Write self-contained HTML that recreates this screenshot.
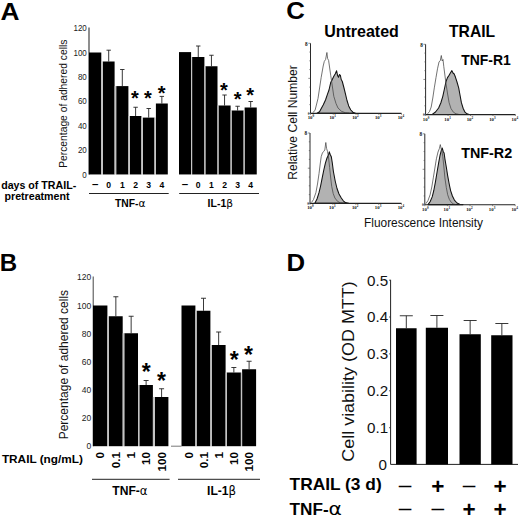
<!DOCTYPE html>
<html lang="en">
<head>
<meta charset="utf-8">
<title>Figure</title>
<style>
html,body{margin:0;padding:0;background:#fff;}
body{width:520px;height:517px;overflow:hidden;}
svg{display:block;font-family:'Liberation Sans', sans-serif;}
</style>
</head>
<body>
<svg width="520" height="517" viewBox="0 0 520 517">
<rect width="520" height="517" fill="#fff"/>
<text x="0.6" y="19.6" font-size="24.6" font-weight="bold" textLength="19.0" lengthAdjust="spacingAndGlyphs" fill="#000">A</text>
<line x1="89.00" y1="27.60" x2="89.00" y2="174.45" stroke="#444" stroke-width="1.2"/>
<text x="86.8" y="31.25" font-size="8.8" text-anchor="end" textLength="13.35" lengthAdjust="spacingAndGlyphs" fill="#222">120</text>
<text x="86.8" y="55.65" font-size="8.8" text-anchor="end" textLength="13.35" lengthAdjust="spacingAndGlyphs" fill="#222">100</text>
<text x="86.8" y="80.05" font-size="8.8" text-anchor="end" textLength="8.9" lengthAdjust="spacingAndGlyphs" fill="#222">80</text>
<text x="86.8" y="104.35" font-size="8.8" text-anchor="end" textLength="8.9" lengthAdjust="spacingAndGlyphs" fill="#222">60</text>
<text x="86.8" y="128.65" font-size="8.8" text-anchor="end" textLength="8.9" lengthAdjust="spacingAndGlyphs" fill="#222">40</text>
<text x="86.8" y="153.05" font-size="8.8" text-anchor="end" textLength="8.9" lengthAdjust="spacingAndGlyphs" fill="#222">20</text>
<text x="86.8" y="177.6" font-size="8.8" text-anchor="end" textLength="4.45" lengthAdjust="spacingAndGlyphs" fill="#222">0</text>
<text x="66.7" y="103.7" font-size="10.3" text-anchor="middle" transform="rotate(-90 66.7 103.7)" fill="#111">Percentage of adhered cells</text>
<rect x="89.00" y="52.50" width="12.30" height="121.95" fill="#000"/>
<line x1="108.70" y1="50.20" x2="108.70" y2="61.50" stroke="#222" stroke-width="0.9"/>
<line x1="106.50" y1="50.20" x2="110.90" y2="50.20" stroke="#222" stroke-width="0.9"/>
<rect x="102.80" y="61.50" width="11.80" height="112.95" fill="#000"/>
<line x1="122.30" y1="69.50" x2="122.30" y2="86.10" stroke="#222" stroke-width="0.9"/>
<line x1="120.10" y1="69.50" x2="124.50" y2="69.50" stroke="#222" stroke-width="0.9"/>
<rect x="116.20" y="86.10" width="12.20" height="88.35" fill="#000"/>
<line x1="135.60" y1="107.25" x2="135.60" y2="116.00" stroke="#222" stroke-width="0.9"/>
<line x1="133.40" y1="107.25" x2="137.80" y2="107.25" stroke="#222" stroke-width="0.9"/>
<rect x="129.80" y="116.00" width="11.60" height="58.45" fill="#000"/>
<line x1="148.70" y1="108.50" x2="148.70" y2="117.60" stroke="#222" stroke-width="0.9"/>
<line x1="146.50" y1="108.50" x2="150.90" y2="108.50" stroke="#222" stroke-width="0.9"/>
<rect x="142.90" y="117.60" width="11.60" height="56.85" fill="#000"/>
<line x1="161.85" y1="96.40" x2="161.85" y2="103.50" stroke="#222" stroke-width="0.9"/>
<line x1="159.65" y1="96.40" x2="164.05" y2="96.40" stroke="#222" stroke-width="0.9"/>
<rect x="155.90" y="103.50" width="11.90" height="70.95" fill="#000"/>
<rect x="101.30" y="61.50" width="1.50" height="112.95" fill="#c4c4c4"/>
<rect x="114.60" y="86.10" width="1.60" height="88.35" fill="#c4c4c4"/>
<rect x="128.40" y="116.00" width="1.40" height="58.45" fill="#c4c4c4"/>
<rect x="141.40" y="117.60" width="1.50" height="56.85" fill="#c4c4c4"/>
<rect x="154.50" y="117.60" width="1.40" height="56.85" fill="#c4c4c4"/>
<rect x="179.00" y="52.10" width="12.10" height="122.35" fill="#000"/>
<line x1="198.25" y1="46.00" x2="198.25" y2="57.00" stroke="#222" stroke-width="0.9"/>
<line x1="196.05" y1="46.00" x2="200.45" y2="46.00" stroke="#222" stroke-width="0.9"/>
<rect x="192.10" y="57.00" width="12.30" height="117.45" fill="#000"/>
<line x1="211.45" y1="55.25" x2="211.45" y2="66.25" stroke="#222" stroke-width="0.9"/>
<line x1="209.25" y1="55.25" x2="213.65" y2="55.25" stroke="#222" stroke-width="0.9"/>
<rect x="205.40" y="66.25" width="12.10" height="108.20" fill="#000"/>
<line x1="224.55" y1="95.00" x2="224.55" y2="105.50" stroke="#222" stroke-width="0.9"/>
<line x1="222.35" y1="95.00" x2="226.75" y2="95.00" stroke="#222" stroke-width="0.9"/>
<rect x="218.50" y="105.50" width="12.10" height="68.95" fill="#000"/>
<line x1="237.60" y1="106.25" x2="237.60" y2="110.50" stroke="#222" stroke-width="0.9"/>
<line x1="235.40" y1="106.25" x2="239.80" y2="106.25" stroke="#222" stroke-width="0.9"/>
<rect x="231.60" y="110.50" width="12.00" height="63.95" fill="#000"/>
<line x1="250.68" y1="101.50" x2="250.68" y2="107.50" stroke="#222" stroke-width="0.9"/>
<line x1="248.48" y1="101.50" x2="252.88" y2="101.50" stroke="#222" stroke-width="0.9"/>
<rect x="244.60" y="107.50" width="12.15" height="66.95" fill="#000"/>
<rect x="191.10" y="57.00" width="1.00" height="117.45" fill="#c4c4c4"/>
<rect x="204.40" y="66.25" width="1.00" height="108.20" fill="#c4c4c4"/>
<rect x="217.50" y="105.50" width="1.00" height="68.95" fill="#c4c4c4"/>
<rect x="230.60" y="110.50" width="1.00" height="63.95" fill="#c4c4c4"/>
<rect x="243.60" y="110.50" width="1.00" height="63.95" fill="#c4c4c4"/>
<text x="134.8" y="105.1" font-size="20" font-weight="bold" text-anchor="middle" fill="#000">*</text>
<text x="147.8" y="105.1" font-size="20" font-weight="bold" text-anchor="middle" fill="#000">*</text>
<text x="161.65" y="100.1" font-size="20" font-weight="bold" text-anchor="middle" fill="#000">*</text>
<text x="223.9" y="96.5" font-size="20" font-weight="bold" text-anchor="middle" fill="#000">*</text>
<text x="237.7" y="106.35" font-size="20" font-weight="bold" text-anchor="middle" fill="#000">*</text>
<text x="250.2" y="101.7" font-size="20" font-weight="bold" text-anchor="middle" fill="#000">*</text>
<text x="95.15" y="188.2" font-size="11.5" font-weight="bold" text-anchor="middle" fill="#000">–</text>
<text x="108.69999999999999" y="188.2" font-size="8.6" font-weight="bold" text-anchor="middle" fill="#000">0</text>
<text x="122.30000000000001" y="188.2" font-size="8.6" font-weight="bold" text-anchor="middle" fill="#000">1</text>
<text x="135.60000000000002" y="188.2" font-size="8.6" font-weight="bold" text-anchor="middle" fill="#000">2</text>
<text x="148.7" y="188.2" font-size="8.6" font-weight="bold" text-anchor="middle" fill="#000">3</text>
<text x="161.85000000000002" y="188.2" font-size="8.6" font-weight="bold" text-anchor="middle" fill="#000">4</text>
<text x="185.05" y="188.2" font-size="11.5" font-weight="bold" text-anchor="middle" fill="#000">–</text>
<text x="198.25" y="188.2" font-size="8.6" font-weight="bold" text-anchor="middle" fill="#000">0</text>
<text x="211.45" y="188.2" font-size="8.6" font-weight="bold" text-anchor="middle" fill="#000">1</text>
<text x="224.55" y="188.2" font-size="8.6" font-weight="bold" text-anchor="middle" fill="#000">2</text>
<text x="237.6" y="188.2" font-size="8.6" font-weight="bold" text-anchor="middle" fill="#000">3</text>
<text x="250.675" y="188.2" font-size="8.6" font-weight="bold" text-anchor="middle" fill="#000">4</text>
<line x1="89.00" y1="193.50" x2="168.70" y2="193.50" stroke="#222" stroke-width="1"/>
<line x1="179.20" y1="193.50" x2="259.00" y2="193.50" stroke="#222" stroke-width="1"/>
<text x="115.0" y="207" font-size="10.3" font-weight="bold" fill="#000">TNF-<tspan font-weight="normal" font-family="DejaVu Sans, Liberation Sans, sans-serif" font-size="10.6">α</tspan></text>
<text x="207.6" y="207" font-size="10.5" font-weight="bold" fill="#000">IL-1<tspan font-weight="normal" font-family="DejaVu Sans, Liberation Sans, sans-serif" font-size="10.6">β</tspan></text>
<text x="1.2" y="189" font-size="10.6" font-weight="bold" textLength="75" lengthAdjust="spacingAndGlyphs" fill="#000">days of TRAIL-</text>
<text x="4.5" y="199.6" font-size="10.6" font-weight="bold" textLength="65" lengthAdjust="spacingAndGlyphs" fill="#000">pretreatment</text>
<text x="-0.3" y="270.9" font-size="24" font-weight="bold" textLength="17.4" lengthAdjust="spacingAndGlyphs" fill="#000">B</text>
<line x1="93.20" y1="276.50" x2="93.20" y2="446.20" stroke="#444" stroke-width="1"/>
<text x="91.2" y="280.3" font-size="8.5" text-anchor="end" fill="#222">120</text>
<text x="91.2" y="308.5" font-size="8.5" text-anchor="end" fill="#222">100</text>
<text x="91.2" y="336.6" font-size="8.5" text-anchor="end" fill="#222">80</text>
<text x="91.2" y="364.8" font-size="8.5" text-anchor="end" fill="#222">60</text>
<text x="91.2" y="392.9" font-size="8.5" text-anchor="end" fill="#222">40</text>
<text x="91.2" y="421.1" font-size="8.5" text-anchor="end" fill="#222">20</text>
<text x="91.2" y="449.2" font-size="8.5" text-anchor="end" fill="#222">0</text>
<text x="68.2" y="364.6" font-size="12" text-anchor="middle" transform="rotate(-90 68.2 364.6)" fill="#111">Percentage of adhered cells</text>
<rect x="93.00" y="305.50" width="14.40" height="140.70" fill="#000"/>
<line x1="115.85" y1="296.75" x2="115.85" y2="316.25" stroke="#222" stroke-width="0.9"/>
<line x1="113.35" y1="296.75" x2="118.35" y2="296.75" stroke="#222" stroke-width="0.9"/>
<rect x="109.00" y="316.25" width="13.70" height="129.95" fill="#000"/>
<line x1="131.15" y1="316.25" x2="131.15" y2="333.25" stroke="#222" stroke-width="0.9"/>
<line x1="128.65" y1="316.25" x2="133.65" y2="316.25" stroke="#222" stroke-width="0.9"/>
<rect x="124.30" y="333.25" width="13.70" height="112.95" fill="#000"/>
<line x1="146.12" y1="380.50" x2="146.12" y2="385.00" stroke="#222" stroke-width="0.9"/>
<line x1="143.62" y1="380.50" x2="148.62" y2="380.50" stroke="#222" stroke-width="0.9"/>
<rect x="139.35" y="385.00" width="13.55" height="61.20" fill="#000"/>
<line x1="161.60" y1="388.75" x2="161.60" y2="397.00" stroke="#222" stroke-width="0.9"/>
<line x1="159.10" y1="388.75" x2="164.10" y2="388.75" stroke="#222" stroke-width="0.9"/>
<rect x="154.80" y="397.00" width="13.60" height="49.20" fill="#000"/>
<rect x="107.40" y="316.25" width="1.60" height="129.95" fill="#c4c4c4"/>
<rect x="122.70" y="333.25" width="1.60" height="112.95" fill="#c4c4c4"/>
<rect x="138.00" y="385.00" width="1.35" height="61.20" fill="#c4c4c4"/>
<rect x="152.90" y="397.00" width="1.90" height="49.20" fill="#c4c4c4"/>
<rect x="181.50" y="305.50" width="13.90" height="140.70" fill="#000"/>
<line x1="203.50" y1="298.25" x2="203.50" y2="310.75" stroke="#222" stroke-width="0.9"/>
<line x1="201.00" y1="298.25" x2="206.00" y2="298.25" stroke="#222" stroke-width="0.9"/>
<rect x="196.60" y="310.75" width="13.80" height="135.45" fill="#000"/>
<line x1="218.65" y1="332.00" x2="218.65" y2="345.00" stroke="#222" stroke-width="0.9"/>
<line x1="216.15" y1="332.00" x2="221.15" y2="332.00" stroke="#222" stroke-width="0.9"/>
<rect x="211.70" y="345.00" width="13.90" height="101.20" fill="#000"/>
<line x1="233.85" y1="367.50" x2="233.85" y2="372.50" stroke="#222" stroke-width="0.9"/>
<line x1="231.35" y1="367.50" x2="236.35" y2="367.50" stroke="#222" stroke-width="0.9"/>
<rect x="226.80" y="372.50" width="14.10" height="73.70" fill="#000"/>
<line x1="249.10" y1="361.25" x2="249.10" y2="369.25" stroke="#222" stroke-width="0.9"/>
<line x1="246.60" y1="361.25" x2="251.60" y2="361.25" stroke="#222" stroke-width="0.9"/>
<rect x="242.10" y="369.25" width="14.00" height="76.95" fill="#000"/>
<rect x="195.40" y="310.75" width="1.20" height="135.45" fill="#c4c4c4"/>
<rect x="210.40" y="345.00" width="1.30" height="101.20" fill="#c4c4c4"/>
<rect x="225.60" y="372.50" width="1.20" height="73.70" fill="#c4c4c4"/>
<rect x="240.90" y="372.50" width="1.20" height="73.70" fill="#c4c4c4"/>
<line x1="171.00" y1="446.20" x2="181.50" y2="446.20" stroke="#555" stroke-width="0.8"/>
<text x="146.3" y="379.92" font-size="23" font-weight="bold" text-anchor="middle" fill="#000">*</text>
<text x="161.4" y="388.92" font-size="23" font-weight="bold" text-anchor="middle" fill="#000">*</text>
<text x="234.25" y="367.87" font-size="23" font-weight="bold" text-anchor="middle" fill="#000">*</text>
<text x="248.5" y="362.87" font-size="23" font-weight="bold" text-anchor="middle" fill="#000">*</text>
<text x="104.3" y="451.9" font-size="11.7" font-weight="bold" text-anchor="end" transform="rotate(-90 104.3 451.9)" fill="#000">0</text>
<text x="119.95" y="451.9" font-size="11.7" font-weight="bold" text-anchor="end" transform="rotate(-90 119.95 451.9)" fill="#000">0.1</text>
<text x="135.25" y="451.9" font-size="11.7" font-weight="bold" text-anchor="end" transform="rotate(-90 135.25 451.9)" fill="#000">1</text>
<text x="150.22" y="451.9" font-size="11.7" font-weight="bold" text-anchor="end" transform="rotate(-90 150.22 451.9)" fill="#000">10</text>
<text x="165.7" y="451.9" font-size="11.7" font-weight="bold" text-anchor="end" transform="rotate(-90 165.7 451.9)" fill="#000">100</text>
<text x="192.55" y="451.9" font-size="11.7" font-weight="bold" text-anchor="end" transform="rotate(-90 192.55 451.9)" fill="#000">0</text>
<text x="207.6" y="451.9" font-size="11.7" font-weight="bold" text-anchor="end" transform="rotate(-90 207.6 451.9)" fill="#000">0.1</text>
<text x="222.75" y="451.9" font-size="11.7" font-weight="bold" text-anchor="end" transform="rotate(-90 222.75 451.9)" fill="#000">1</text>
<text x="237.95" y="451.9" font-size="11.7" font-weight="bold" text-anchor="end" transform="rotate(-90 237.95 451.9)" fill="#000">10</text>
<text x="253.2" y="451.9" font-size="11.7" font-weight="bold" text-anchor="end" transform="rotate(-90 253.2 451.9)" fill="#000">100</text>
<line x1="92.00" y1="479.30" x2="169.60" y2="479.30" stroke="#222" stroke-width="1"/>
<line x1="178.00" y1="479.30" x2="260.00" y2="479.30" stroke="#222" stroke-width="1"/>
<text x="112.3" y="494.5" font-size="12.1" font-weight="bold" fill="#000">TNF-<tspan font-weight="normal" font-family="DejaVu Sans, Liberation Sans, sans-serif" font-size="11.8">α</tspan></text>
<text x="207.1" y="494.5" font-size="12.1" font-weight="bold" fill="#000">IL-1<tspan font-weight="normal" font-family="DejaVu Sans, Liberation Sans, sans-serif" font-size="11.8">β</tspan></text>
<text x="1.9" y="462.6" font-size="11.8" font-weight="bold" fill="#000">TRAIL (ng/mL)</text>
<text x="286.3" y="18.9" font-size="24.4" font-weight="bold" textLength="18.6" lengthAdjust="spacingAndGlyphs" fill="#000">C</text>
<text x="324.2" y="37" font-size="16" font-weight="bold" fill="#000">Untreated</text>
<text x="449.0" y="36.6" font-size="15.7" font-weight="bold" fill="#000">TRAIL</text>
<text x="461.2" y="64.8" font-size="15.2" font-weight="bold" textLength="49.5" lengthAdjust="spacingAndGlyphs" fill="#000">TNF-R1</text>
<text x="461.2" y="158.4" font-size="15.2" font-weight="bold" textLength="51" lengthAdjust="spacingAndGlyphs" fill="#000">TNF-R2</text>
<text x="297" y="122.5" font-size="12.15" text-anchor="middle" transform="rotate(-90 297 122.5)" fill="#111">Relative Cell Number</text>
<text x="364" y="227" font-size="12" textLength="119" lengthAdjust="spacingAndGlyphs" fill="#111">Fluorescence Intensity</text>
<polygon points="317.0,113.2 319.5,111.8 323.3,104.8 325.5,100.0 327.5,94.2 329.0,90.0 330.7,82.6 331.8,80.5 333.8,76.3 335.3,73.8 336.6,70.8 337.6,75.5 338.5,77.3 339.5,74.5 340.4,75.4 341.2,79.5 342.3,81.5 344.0,88.0 345.5,94.2 347.0,100.5 348.7,105.9 350.8,110.0 352.9,112.2 355.4,113.2" fill="#b2b2b2" stroke="#111" stroke-width="1.05" stroke-linejoin="round"/>
<polyline points="312.7,112.6 315.0,110.5 318.0,98.5 321.2,77.3 323.2,66.0 324.3,61.4 325.6,59.5 326.9,52.5 327.6,58.5 328.6,60.4 330.7,75.2 333.8,96.3 336.0,103.5 338.0,108.0 341.5,111.3 345.5,112.8 349.0,113.2" fill="none" stroke="#444" stroke-width="0.75" stroke-linejoin="round"/>
<line x1="310.50" y1="43.30" x2="310.50" y2="113.40" stroke="#2a2a2a" stroke-width="1.0"/>
<line x1="310.50" y1="113.40" x2="401.50" y2="113.40" stroke="#222" stroke-width="1.1"/>
<line x1="308.30" y1="43.30" x2="310.50" y2="43.30" stroke="#444" stroke-width="0.6"/>
<line x1="309.30" y1="52.06" x2="310.50" y2="52.06" stroke="#444" stroke-width="0.6"/>
<line x1="309.30" y1="60.83" x2="310.50" y2="60.83" stroke="#444" stroke-width="0.6"/>
<line x1="309.30" y1="69.59" x2="310.50" y2="69.59" stroke="#444" stroke-width="0.6"/>
<line x1="308.30" y1="78.35" x2="310.50" y2="78.35" stroke="#444" stroke-width="0.6"/>
<line x1="309.30" y1="87.11" x2="310.50" y2="87.11" stroke="#444" stroke-width="0.6"/>
<line x1="309.30" y1="95.88" x2="310.50" y2="95.88" stroke="#444" stroke-width="0.6"/>
<line x1="309.30" y1="104.64" x2="310.50" y2="104.64" stroke="#444" stroke-width="0.6"/>
<line x1="308.30" y1="113.40" x2="310.50" y2="113.40" stroke="#444" stroke-width="0.6"/>
<text x="312.5" y="119.3" font-size="4.8" text-anchor="end" fill="#111" font-family="Liberation Serif, serif" font-weight="bold">10</text>
<text x="312.6" y="117.4" font-size="3.3" fill="#111" font-family="Liberation Serif, serif" font-weight="bold">0</text>
<line x1="310.50" y1="113.40" x2="310.50" y2="114.80" stroke="#444" stroke-width="0.6"/>
<text x="334.25" y="119.3" font-size="4.8" text-anchor="end" fill="#111" font-family="Liberation Serif, serif" font-weight="bold">10</text>
<text x="334.35" y="117.4" font-size="3.3" fill="#111" font-family="Liberation Serif, serif" font-weight="bold">1</text>
<line x1="333.25" y1="113.40" x2="333.25" y2="114.80" stroke="#444" stroke-width="0.6"/>
<text x="357.0" y="119.3" font-size="4.8" text-anchor="end" fill="#111" font-family="Liberation Serif, serif" font-weight="bold">10</text>
<text x="357.1" y="117.4" font-size="3.3" fill="#111" font-family="Liberation Serif, serif" font-weight="bold">2</text>
<line x1="356.00" y1="113.40" x2="356.00" y2="114.80" stroke="#444" stroke-width="0.6"/>
<text x="379.75" y="119.3" font-size="4.8" text-anchor="end" fill="#111" font-family="Liberation Serif, serif" font-weight="bold">10</text>
<text x="379.85" y="117.4" font-size="3.3" fill="#111" font-family="Liberation Serif, serif" font-weight="bold">3</text>
<line x1="378.75" y1="113.40" x2="378.75" y2="114.80" stroke="#444" stroke-width="0.6"/>
<text x="402.5" y="119.3" font-size="4.8" text-anchor="end" fill="#111" font-family="Liberation Serif, serif" font-weight="bold">10</text>
<text x="402.6" y="117.4" font-size="3.3" fill="#111" font-family="Liberation Serif, serif" font-weight="bold">4</text>
<line x1="401.50" y1="113.40" x2="401.50" y2="114.80" stroke="#444" stroke-width="0.6"/>
<text x="307.7" y="45.7" font-size="5.2" text-anchor="end" fill="#111" font-family="Liberation Serif, serif" font-weight="bold">8</text>
<text x="309.5" y="114.6" font-size="3.4" text-anchor="end" fill="#333" font-family="Liberation Serif, serif" font-weight="bold">0</text>
<polygon points="432.2,114.4 435.5,112.0 438.6,108.0 440.8,103.0 442.8,96.3 444.4,89.0 446.0,81.5 447.5,77.6 449.1,75.2 450.5,72.8 451.9,70.6 453.0,73.0 454.2,74.0 455.5,77.3 457.0,82.0 458.7,87.9 460.0,95.0 461.4,102.7 463.2,108.5 465.0,112.2 467.0,113.8 469.2,114.4" fill="#b2b2b2" stroke="#111" stroke-width="1.05" stroke-linejoin="round"/>
<polyline points="427.6,113.8 429.5,111.5 431.2,107.0 432.8,98.0 434.3,87.9 436.0,77.5 437.5,68.8 439.0,62.0 440.3,60.5 441.3,55.5 442.2,61.0 443.0,59.5 443.8,66.7 446.0,83.7 447.6,94.0 449.1,102.7 451.0,108.6 453.4,112.2 456.0,113.8 458.7,114.3" fill="none" stroke="#444" stroke-width="0.75" stroke-linejoin="round"/>
<line x1="425.60" y1="44.30" x2="425.60" y2="114.60" stroke="#2a2a2a" stroke-width="1.0"/>
<line x1="425.60" y1="114.60" x2="515.40" y2="114.60" stroke="#222" stroke-width="1.1"/>
<line x1="423.40" y1="44.30" x2="425.60" y2="44.30" stroke="#444" stroke-width="0.6"/>
<line x1="424.40" y1="53.09" x2="425.60" y2="53.09" stroke="#444" stroke-width="0.6"/>
<line x1="424.40" y1="61.88" x2="425.60" y2="61.88" stroke="#444" stroke-width="0.6"/>
<line x1="424.40" y1="70.66" x2="425.60" y2="70.66" stroke="#444" stroke-width="0.6"/>
<line x1="423.40" y1="79.45" x2="425.60" y2="79.45" stroke="#444" stroke-width="0.6"/>
<line x1="424.40" y1="88.24" x2="425.60" y2="88.24" stroke="#444" stroke-width="0.6"/>
<line x1="424.40" y1="97.02" x2="425.60" y2="97.02" stroke="#444" stroke-width="0.6"/>
<line x1="424.40" y1="105.81" x2="425.60" y2="105.81" stroke="#444" stroke-width="0.6"/>
<line x1="423.40" y1="114.60" x2="425.60" y2="114.60" stroke="#444" stroke-width="0.6"/>
<text x="427.6" y="120.5" font-size="4.8" text-anchor="end" fill="#111" font-family="Liberation Serif, serif" font-weight="bold">10</text>
<text x="427.7" y="118.6" font-size="3.3" fill="#111" font-family="Liberation Serif, serif" font-weight="bold">0</text>
<line x1="425.60" y1="114.60" x2="425.60" y2="116.00" stroke="#444" stroke-width="0.6"/>
<text x="449.05" y="120.5" font-size="4.8" text-anchor="end" fill="#111" font-family="Liberation Serif, serif" font-weight="bold">10</text>
<text x="449.15" y="118.6" font-size="3.3" fill="#111" font-family="Liberation Serif, serif" font-weight="bold">1</text>
<line x1="448.05" y1="114.60" x2="448.05" y2="116.00" stroke="#444" stroke-width="0.6"/>
<text x="471.5" y="120.5" font-size="4.8" text-anchor="end" fill="#111" font-family="Liberation Serif, serif" font-weight="bold">10</text>
<text x="471.6" y="118.6" font-size="3.3" fill="#111" font-family="Liberation Serif, serif" font-weight="bold">2</text>
<line x1="470.50" y1="114.60" x2="470.50" y2="116.00" stroke="#444" stroke-width="0.6"/>
<text x="493.95" y="120.5" font-size="4.8" text-anchor="end" fill="#111" font-family="Liberation Serif, serif" font-weight="bold">10</text>
<text x="494.05" y="118.6" font-size="3.3" fill="#111" font-family="Liberation Serif, serif" font-weight="bold">3</text>
<line x1="492.95" y1="114.60" x2="492.95" y2="116.00" stroke="#444" stroke-width="0.6"/>
<text x="516.4" y="120.5" font-size="4.8" text-anchor="end" fill="#111" font-family="Liberation Serif, serif" font-weight="bold">10</text>
<text x="516.5" y="118.6" font-size="3.3" fill="#111" font-family="Liberation Serif, serif" font-weight="bold">4</text>
<line x1="515.40" y1="114.60" x2="515.40" y2="116.00" stroke="#444" stroke-width="0.6"/>
<text x="422.8" y="46.7" font-size="5.2" text-anchor="end" fill="#111" font-family="Liberation Serif, serif" font-weight="bold">8</text>
<text x="424.6" y="115.8" font-size="3.4" text-anchor="end" fill="#333" font-family="Liberation Serif, serif" font-weight="bold">0</text>
<polygon points="314.8,203.2 317.0,199.0 319.0,192.7 320.6,186.0 322.2,177.9 323.8,170.0 325.4,163.1 327.0,158.0 328.6,154.6 329.3,151.8 330.2,154.5 331.3,156.7 332.3,163.0 333.4,171.5 335.2,181.0 337.0,188.5 339.0,194.0 341.3,198.0 343.3,200.8 345.5,202.6 348.7,203.3" fill="#b2b2b2" stroke="#111" stroke-width="1.05" stroke-linejoin="round"/>
<polyline points="311.6,202.4 313.5,199.5 315.9,192.7 317.5,184.0 319.0,173.7 320.2,164.0 321.2,156.7 322.4,153.0 323.7,151.4 324.8,150.0 325.8,142.5 326.6,148.5 327.5,151.4 328.6,158.0 329.6,167.3 330.6,177.0 331.7,186.3 333.2,193.5 334.9,198.0 337.5,201.3 340.2,202.8 344.0,203.2" fill="none" stroke="#444" stroke-width="0.75" stroke-linejoin="round"/>
<line x1="310.00" y1="133.00" x2="310.00" y2="203.40" stroke="#2a2a2a" stroke-width="1.0"/>
<line x1="310.00" y1="203.40" x2="401.50" y2="203.40" stroke="#222" stroke-width="1.1"/>
<line x1="307.80" y1="133.00" x2="310.00" y2="133.00" stroke="#444" stroke-width="0.6"/>
<line x1="308.80" y1="141.80" x2="310.00" y2="141.80" stroke="#444" stroke-width="0.6"/>
<line x1="308.80" y1="150.60" x2="310.00" y2="150.60" stroke="#444" stroke-width="0.6"/>
<line x1="308.80" y1="159.40" x2="310.00" y2="159.40" stroke="#444" stroke-width="0.6"/>
<line x1="307.80" y1="168.20" x2="310.00" y2="168.20" stroke="#444" stroke-width="0.6"/>
<line x1="308.80" y1="177.00" x2="310.00" y2="177.00" stroke="#444" stroke-width="0.6"/>
<line x1="308.80" y1="185.80" x2="310.00" y2="185.80" stroke="#444" stroke-width="0.6"/>
<line x1="308.80" y1="194.60" x2="310.00" y2="194.60" stroke="#444" stroke-width="0.6"/>
<line x1="307.80" y1="203.40" x2="310.00" y2="203.40" stroke="#444" stroke-width="0.6"/>
<text x="312.0" y="209.3" font-size="4.8" text-anchor="end" fill="#111" font-family="Liberation Serif, serif" font-weight="bold">10</text>
<text x="312.1" y="207.4" font-size="3.3" fill="#111" font-family="Liberation Serif, serif" font-weight="bold">0</text>
<line x1="310.00" y1="203.40" x2="310.00" y2="204.80" stroke="#444" stroke-width="0.6"/>
<text x="333.88" y="209.3" font-size="4.8" text-anchor="end" fill="#111" font-family="Liberation Serif, serif" font-weight="bold">10</text>
<text x="333.98" y="207.4" font-size="3.3" fill="#111" font-family="Liberation Serif, serif" font-weight="bold">1</text>
<line x1="332.88" y1="203.40" x2="332.88" y2="204.80" stroke="#444" stroke-width="0.6"/>
<text x="356.75" y="209.3" font-size="4.8" text-anchor="end" fill="#111" font-family="Liberation Serif, serif" font-weight="bold">10</text>
<text x="356.85" y="207.4" font-size="3.3" fill="#111" font-family="Liberation Serif, serif" font-weight="bold">2</text>
<line x1="355.75" y1="203.40" x2="355.75" y2="204.80" stroke="#444" stroke-width="0.6"/>
<text x="379.62" y="209.3" font-size="4.8" text-anchor="end" fill="#111" font-family="Liberation Serif, serif" font-weight="bold">10</text>
<text x="379.73" y="207.4" font-size="3.3" fill="#111" font-family="Liberation Serif, serif" font-weight="bold">3</text>
<line x1="378.62" y1="203.40" x2="378.62" y2="204.80" stroke="#444" stroke-width="0.6"/>
<text x="402.5" y="209.3" font-size="4.8" text-anchor="end" fill="#111" font-family="Liberation Serif, serif" font-weight="bold">10</text>
<text x="402.6" y="207.4" font-size="3.3" fill="#111" font-family="Liberation Serif, serif" font-weight="bold">4</text>
<line x1="401.50" y1="203.40" x2="401.50" y2="204.80" stroke="#444" stroke-width="0.6"/>
<text x="307.2" y="135.4" font-size="5.2" text-anchor="end" fill="#111" font-family="Liberation Serif, serif" font-weight="bold">8</text>
<text x="309.0" y="204.6" font-size="3.4" text-anchor="end" fill="#333" font-family="Liberation Serif, serif" font-weight="bold">0</text>
<polygon points="428.0,204.6 430.2,201.5 432.2,196.9 433.8,190.5 435.4,182.1 437.0,172.5 438.6,163.1 440.0,155.5 441.3,150.4 442.2,148.0 443.2,151.5 444.1,153.0 444.9,158.8 446.3,167.0 447.7,175.8 449.2,184.0 450.6,190.6 452.4,196.0 454.4,200.1 457.0,203.0 459.7,204.2 463.0,204.6" fill="#b2b2b2" stroke="#111" stroke-width="1.05" stroke-linejoin="round"/>
<polyline points="425.9,203.6 428.0,200.5 430.1,194.8 431.8,187.0 433.3,177.9 434.9,168.0 436.4,158.8 438.0,152.0 439.4,148.5 440.3,144.6 441.2,149.0 442.0,151.5 442.8,156.7 443.9,167.0 444.9,177.9 446.3,187.5 447.7,194.8 449.4,199.5 451.3,202.4 453.5,204.0 455.5,204.5" fill="none" stroke="#444" stroke-width="0.75" stroke-linejoin="round"/>
<line x1="424.80" y1="133.80" x2="424.80" y2="204.80" stroke="#2a2a2a" stroke-width="1.0"/>
<line x1="424.80" y1="204.80" x2="515.20" y2="204.80" stroke="#222" stroke-width="1.1"/>
<line x1="422.60" y1="133.80" x2="424.80" y2="133.80" stroke="#444" stroke-width="0.6"/>
<line x1="423.60" y1="142.68" x2="424.80" y2="142.68" stroke="#444" stroke-width="0.6"/>
<line x1="423.60" y1="151.55" x2="424.80" y2="151.55" stroke="#444" stroke-width="0.6"/>
<line x1="423.60" y1="160.43" x2="424.80" y2="160.43" stroke="#444" stroke-width="0.6"/>
<line x1="422.60" y1="169.30" x2="424.80" y2="169.30" stroke="#444" stroke-width="0.6"/>
<line x1="423.60" y1="178.18" x2="424.80" y2="178.18" stroke="#444" stroke-width="0.6"/>
<line x1="423.60" y1="187.05" x2="424.80" y2="187.05" stroke="#444" stroke-width="0.6"/>
<line x1="423.60" y1="195.93" x2="424.80" y2="195.93" stroke="#444" stroke-width="0.6"/>
<line x1="422.60" y1="204.80" x2="424.80" y2="204.80" stroke="#444" stroke-width="0.6"/>
<text x="426.8" y="210.7" font-size="4.8" text-anchor="end" fill="#111" font-family="Liberation Serif, serif" font-weight="bold">10</text>
<text x="426.9" y="208.8" font-size="3.3" fill="#111" font-family="Liberation Serif, serif" font-weight="bold">0</text>
<line x1="424.80" y1="204.80" x2="424.80" y2="206.20" stroke="#444" stroke-width="0.6"/>
<text x="448.4" y="210.7" font-size="4.8" text-anchor="end" fill="#111" font-family="Liberation Serif, serif" font-weight="bold">10</text>
<text x="448.5" y="208.8" font-size="3.3" fill="#111" font-family="Liberation Serif, serif" font-weight="bold">1</text>
<line x1="447.40" y1="204.80" x2="447.40" y2="206.20" stroke="#444" stroke-width="0.6"/>
<text x="471.0" y="210.7" font-size="4.8" text-anchor="end" fill="#111" font-family="Liberation Serif, serif" font-weight="bold">10</text>
<text x="471.1" y="208.8" font-size="3.3" fill="#111" font-family="Liberation Serif, serif" font-weight="bold">2</text>
<line x1="470.00" y1="204.80" x2="470.00" y2="206.20" stroke="#444" stroke-width="0.6"/>
<text x="493.6" y="210.7" font-size="4.8" text-anchor="end" fill="#111" font-family="Liberation Serif, serif" font-weight="bold">10</text>
<text x="493.7" y="208.8" font-size="3.3" fill="#111" font-family="Liberation Serif, serif" font-weight="bold">3</text>
<line x1="492.60" y1="204.80" x2="492.60" y2="206.20" stroke="#444" stroke-width="0.6"/>
<text x="516.2" y="210.7" font-size="4.8" text-anchor="end" fill="#111" font-family="Liberation Serif, serif" font-weight="bold">10</text>
<text x="516.3" y="208.8" font-size="3.3" fill="#111" font-family="Liberation Serif, serif" font-weight="bold">4</text>
<line x1="515.20" y1="204.80" x2="515.20" y2="206.20" stroke="#444" stroke-width="0.6"/>
<text x="422.0" y="136.2" font-size="5.2" text-anchor="end" fill="#111" font-family="Liberation Serif, serif" font-weight="bold">8</text>
<text x="423.8" y="206.0" font-size="3.4" text-anchor="end" fill="#333" font-family="Liberation Serif, serif" font-weight="bold">0</text>
<text x="286.4" y="270.6" font-size="23.3" font-weight="bold" textLength="18.6" lengthAdjust="spacingAndGlyphs" fill="#000">D</text>
<line x1="390.60" y1="279.80" x2="390.60" y2="464.40" stroke="#222" stroke-width="1"/>
<line x1="390.60" y1="464.40" x2="518.00" y2="464.40" stroke="#222" stroke-width="1"/>
<line x1="389.00" y1="280.20" x2="390.60" y2="280.20" stroke="#333" stroke-width="0.8"/>
<text x="388.2" y="285.5" font-size="15.2" text-anchor="end" fill="#111">0.5</text>
<line x1="389.00" y1="317.00" x2="390.60" y2="317.00" stroke="#333" stroke-width="0.8"/>
<text x="388.2" y="322.3" font-size="15.2" text-anchor="end" fill="#111">0.4</text>
<line x1="389.00" y1="353.90" x2="390.60" y2="353.90" stroke="#333" stroke-width="0.8"/>
<text x="388.2" y="359.2" font-size="15.2" text-anchor="end" fill="#111">0.3</text>
<line x1="389.00" y1="390.80" x2="390.60" y2="390.80" stroke="#333" stroke-width="0.8"/>
<text x="388.2" y="396.1" font-size="15.2" text-anchor="end" fill="#111">0.2</text>
<line x1="389.00" y1="427.70" x2="390.60" y2="427.70" stroke="#333" stroke-width="0.8"/>
<text x="388.2" y="433.0" font-size="15.2" text-anchor="end" fill="#111">0.1</text>
<text x="387.0" y="469.6" font-size="15.2" text-anchor="end" fill="#111">0</text>
<text x="354.3" y="371.5" font-size="17.3" text-anchor="middle" transform="rotate(-90 354.3 371.5)" textLength="180.5" lengthAdjust="spacingAndGlyphs" fill="#111">Cell viability (OD MTT)</text>
<line x1="406.30" y1="315.75" x2="406.30" y2="328.25" stroke="#222" stroke-width="0.9"/>
<line x1="399.80" y1="315.75" x2="412.80" y2="315.75" stroke="#222" stroke-width="0.9"/>
<rect x="396.00" y="328.25" width="20.60" height="136.15" fill="#000"/>
<line x1="436.90" y1="315.50" x2="436.90" y2="327.75" stroke="#222" stroke-width="0.9"/>
<line x1="430.40" y1="315.50" x2="443.40" y2="315.50" stroke="#222" stroke-width="0.9"/>
<rect x="425.80" y="327.75" width="22.20" height="136.65" fill="#000"/>
<line x1="470.15" y1="320.50" x2="470.15" y2="334.25" stroke="#222" stroke-width="0.9"/>
<line x1="463.65" y1="320.50" x2="476.65" y2="320.50" stroke="#222" stroke-width="0.9"/>
<rect x="459.50" y="334.25" width="21.30" height="130.15" fill="#000"/>
<line x1="501.85" y1="323.50" x2="501.85" y2="335.25" stroke="#222" stroke-width="0.9"/>
<line x1="495.35" y1="323.50" x2="508.35" y2="323.50" stroke="#222" stroke-width="0.9"/>
<rect x="491.20" y="335.25" width="21.30" height="129.15" fill="#000"/>
<text x="289.6" y="489.6" font-size="17" font-weight="bold" textLength="92.1" lengthAdjust="spacingAndGlyphs" fill="#000">TRAIL (3 d)</text>
<text x="289.6" y="514.6" font-size="17.2" font-weight="bold" fill="#000">TNF-</text>
<text x="328.4" y="514.6" font-size="17.5" textLength="13.4" lengthAdjust="spacingAndGlyphs" fill="#000" font-family="DejaVu Sans, Liberation Sans, sans-serif">α</text>
<text x="405" y="491" font-size="14.5" font-weight="bold" text-anchor="middle" textLength="12.6" lengthAdjust="spacingAndGlyphs" fill="#000">—</text>
<text x="437.8" y="494.35" font-size="22.5" font-weight="bold" text-anchor="middle" fill="#000">+</text>
<text x="469.0" y="491" font-size="14.5" font-weight="bold" text-anchor="middle" textLength="12.6" lengthAdjust="spacingAndGlyphs" fill="#000">—</text>
<text x="500" y="494.35" font-size="22.5" font-weight="bold" text-anchor="middle" fill="#000">+</text>
<text x="405" y="514" font-size="14.5" font-weight="bold" text-anchor="middle" textLength="12.6" lengthAdjust="spacingAndGlyphs" fill="#000">—</text>
<text x="437.8" y="514" font-size="14.5" font-weight="bold" text-anchor="middle" textLength="12.6" lengthAdjust="spacingAndGlyphs" fill="#000">—</text>
<text x="469.0" y="516.85" font-size="22.5" font-weight="bold" text-anchor="middle" fill="#000">+</text>
<text x="500" y="516.85" font-size="22.5" font-weight="bold" text-anchor="middle" fill="#000">+</text>
</svg>
</body>
</html>
